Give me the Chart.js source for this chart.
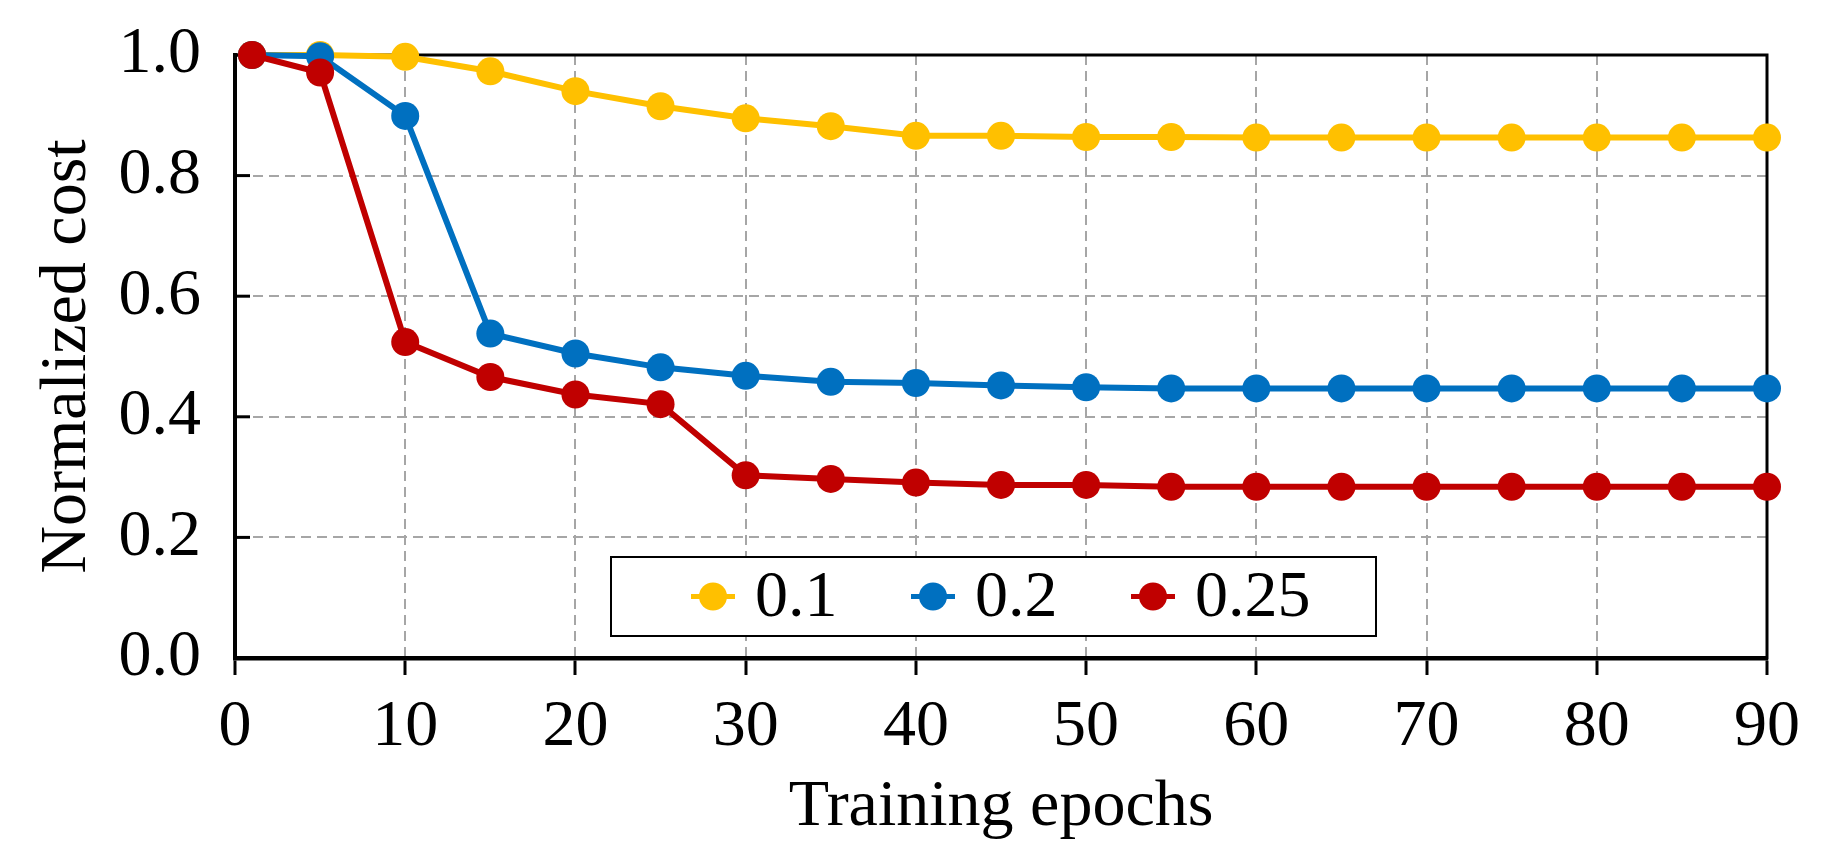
<!DOCTYPE html>
<html>
<head>
<meta charset="utf-8">
<script src="https://cdn.jsdelivr.net/npm/chart.js@4"></script>
<style>
  html, body { margin: 0; padding: 0; background: #fff; }
</style>
</head>
<body>
<canvas id="costChart" width="1836" height="865"></canvas>
<script>
// training epochs on the x axis
const epochs = [1, 5, 10, 15, 20, 25, 30, 35, 40, 45, 50, 55, 60, 65, 70, 75, 80, 85, 90];

// normalized cost per setting
const cost01 = [1.0, 1.0, 0.997, 0.973, 0.94, 0.915, 0.895, 0.882, 0.866, 0.866, 0.864, 0.864, 0.863, 0.863, 0.863, 0.863, 0.863, 0.863, 0.863];
const cost02 = [1.0, 0.998, 0.899, 0.538, 0.505, 0.482, 0.468, 0.458, 0.456, 0.452, 0.449, 0.447, 0.447, 0.447, 0.447, 0.447, 0.447, 0.447, 0.447];
const cost025 = [1.0, 0.971, 0.524, 0.466, 0.437, 0.421, 0.303, 0.297, 0.291, 0.287, 0.287, 0.284, 0.284, 0.284, 0.284, 0.284, 0.284, 0.284, 0.284];

const seriesLabels = ['0.1', '0.2', '0.25'];
const seriesColors = ['#FFC000', '#0070C0', '#C00000'];

const serif = 'Liberation Serif';

function toPoints(vals) {
  return epochs.map((e, i) => ({x: e, y: vals[i]}));
}

function makeSet(i, vals) {
  return {
    label: seriesLabels[i],
    data: toPoints(vals),
    borderColor: seriesColors[i],
    backgroundColor: seriesColors[i],
    borderWidth: 6,
    pointRadius: 14,
    pointHoverRadius: 14,
    pointBorderWidth: 0,
    clip: false,
    order: 3 - i,
    tension: 0
  };
}

// frame, inward y ticks and the boxed legend
const framePlugin = {
  id: 'framePlugin',
  beforeDatasetsDraw(chart) {
    const {ctx, chartArea: a, scales: {y}} = chart;
    ctx.save();
    ctx.strokeStyle = '#000';
    ctx.lineWidth = 3;
    y.ticks.forEach(t => {
      const py = y.getPixelForValue(t.value);
      ctx.beginPath();
      ctx.moveTo(a.left, py);
      ctx.lineTo(a.left + 15, py);
      ctx.stroke();
    });
    ctx.strokeRect(a.left, a.top, a.right - a.left, a.bottom - a.top);
    ctx.restore();
  },
  afterDraw(chart) {
    const {ctx, chartArea: a} = chart;
    const bx = a.left + 376, by = a.top + 502, bw = 765, bh = 79;
    ctx.save();
    ctx.fillStyle = '#fff';
    ctx.fillRect(bx, by, bw, bh);
    ctx.strokeStyle = '#000';
    ctx.lineWidth = 2;
    ctx.strokeRect(bx, by, bw, bh);
    const cy = by + bh / 2;
    chart.data.datasets.forEach((ds, i) => {
      const cx = bx + 102 + i * 220;
      ctx.strokeStyle = ds.borderColor;
      ctx.lineWidth = 5;
      ctx.beginPath();
      ctx.moveTo(cx - 22, cy);
      ctx.lineTo(cx + 22, cy);
      ctx.stroke();
      ctx.fillStyle = ds.backgroundColor;
      ctx.beginPath();
      ctx.arc(cx, cy, 14, 0, Math.PI * 2);
      ctx.fill();
      ctx.fillStyle = '#000';
      ctx.font = '66px "' + serif + '"';
      ctx.textAlign = 'left';
      ctx.textBaseline = 'middle';
      ctx.fillText(ds.label, cx + 42, cy + 2);
    });
    ctx.restore();
  }
};

const config = {
  type: 'line',
  data: {
    datasets: [makeSet(0, cost01), makeSet(1, cost02), makeSet(2, cost025)]
  },
  options: {
    responsive: false,
    animation: false,
    layout: { padding: {top: 55, right: 69, left: 0, bottom: 0} },
    plugins: {
      legend: { display: false },
      tooltip: { enabled: false }
    },
    scales: {
      x: {
        type: 'linear',
        min: 0,
        max: 90,
        afterFit: s => { s.height = 207; s.paddingLeft = 0; s.paddingRight = 0; },
        ticks: {
          stepSize: 10,
          padding: 13,
          color: '#000',
          font: {family: serif, size: 66}
        },
        grid: {
          color: '#a6a6a6',
          lineWidth: 2,
          drawTicks: true,
          tickLength: 17,
          tickColor: '#000',
          tickWidth: 3,
          tickBorderDash: []
        },
        border: { display: true, color: '#000', width: 4.5, dash: [10, 6] },
        title: {
          display: true,
          text: 'Training epochs',
          color: '#000',
          font: {family: serif, size: 66, lineHeight: 1},
          padding: {top: 0, bottom: 24}
        }
      },
      y: {
        min: 0,
        max: 1,
        afterFit: s => { s.width = 235; s.paddingTop = 0; s.paddingBottom = 0; },
        ticks: {
          stepSize: 0.2,
          padding: 34,
          color: '#000',
          font: {family: serif, size: 66},
          callback: v => v.toFixed(1)
        },
        grid: {
          color: '#a6a6a6',
          lineWidth: 2,
          drawTicks: false
        },
        border: { display: true, color: '#000', width: 4, dash: [10, 6] },
        title: {
          display: true,
          text: 'Normalized cost',
          color: '#000',
          font: {family: serif, size: 66, lineHeight: 1},
          padding: {top: 35, bottom: 0}
        }
      }
    }
  },
  plugins: [framePlugin]
};

const costChart = new Chart(document.getElementById('costChart'), config);
</script>
</body>
</html>
